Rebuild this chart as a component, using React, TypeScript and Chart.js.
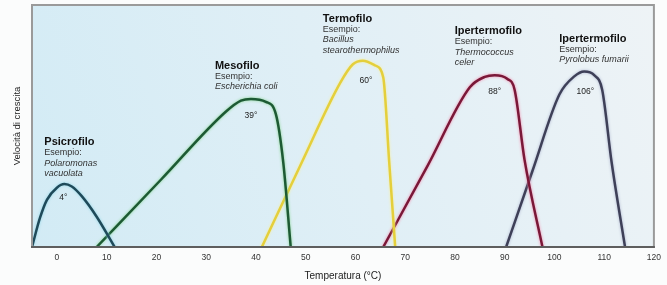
import React, { useEffect, useRef } from "react";
import { Chart, registerables } from "chart.js";

Chart.register(...registerables);

// Temperature (°C) / growth-rate (relative 0-100) points for each curve
const psicroT = [-5, -3.4, -2, 0, 1.5, 3, 5, 8, 11.6];
const psicroV = [0, 12, 19.5, 24.5, 26, 25, 21, 12.5, 0];
const mesoT = [8, 21, 34, 37, 39, 42, 44, 45.5, 47];
const mesoV = [0, 28, 56, 60.5, 61.2, 60, 55, 35, 0];
const termoT = [41.2, 49, 57, 59.5, 61.5, 64, 65.6, 66.8, 68];
const termoV = [0, 34, 68, 75.5, 77, 75, 70, 35, 0];
const iper1T = [65.6, 74.5, 83, 86, 88, 90.5, 92, 94, 97.6];
const iper1V = [0, 33.5, 66, 70.3, 71, 69.5, 65, 36, 0];
const iper2T = [90.3, 95.6, 101, 104, 106, 108, 109.6, 111.5, 114.2];
const iper2V = [0, 31.5, 63, 70.5, 72.5, 71, 65, 35, 0];

const groupNames = ["Psicrofilo", "Mesofilo", "Termofilo", "Ipertermofilo", "Ipertermofilo"];
const exampleLines = [
  ["Polaromonas", "vacuolata"],
  ["Escherichia coli"],
  ["Bacillus", "stearothermophilus"],
  ["Thermococcus", "celer"],
  ["Pyrolobus fumarii"],
];
const optimumLabels = ["4°", "39°", "60°", "88°", "106°"];
const xTicks = [0, 10, 20, 30, 40, 50, 60, 70, 80, 90, 100, 110, 120];
const xTitle = "Temperatura (°C)";
const yTitle = "Velocità di crescita";

// styles
const lineColors = ["#1f4a5a", "#1d5a34", "#e4cf3c", "#7a1838", "#3e4058"];
const glowColors = ["#8fd6e6", "#86d690", "#f7ee9c", "#f489aa", "#aab2cc"];
// label offsets in px relative to each curve's peak: [titleDx, titleDy, tempDx, tempDy]
const labelOffsets = [
  [-20, -42, -1, 14],
  [-36, -33, 0, 17],
  [-40, -42, 3, 20],
  [-40, -44, 0, 16],
  [-25, -33, 1, 20],
];
const FONT = '"Liberation Sans", Arial, sans-serif';

const series = [
  [psicroT, psicroV],
  [mesoT, mesoV],
  [termoT, termoV],
  [iper1T, iper1V],
  [iper2T, iper2V],
];

export default function App() {
  const ref = useRef<HTMLCanvasElement>(null);
  useEffect(() => {
    document.body.style.margin = "0";
    const canvas = ref.current;
    if (!canvas) return;

    const decor = {
      id: "decor",
      beforeDraw(chart: any) {
        const { ctx, chartArea: a, width, height } = chart;
        ctx.save();
        ctx.fillStyle = "#fbfcfc";
        ctx.fillRect(0, 0, width, height);
        const g = ctx.createLinearGradient(a.left, a.bottom, a.right, a.top);
        g.addColorStop(0, "#d2ebf5");
        g.addColorStop(0.5, "#e0eff6");
        g.addColorStop(1, "#eef3f6");
        ctx.fillStyle = g;
        ctx.fillRect(a.left, a.top, a.right - a.left, a.bottom - a.top);
        ctx.restore();
      },
      beforeDatasetDraw(chart: any, args: any) {
        const ctx = chart.ctx;
        ctx.save();
        ctx.shadowColor = glowColors[args.index];
        ctx.shadowBlur = 3;
      },
      afterDatasetDraw(chart: any) {
        chart.ctx.restore();
      },
      afterDraw(chart: any) {
        const { ctx, chartArea: a } = chart;
        ctx.save();
        ctx.strokeStyle = "#9a9a9a";
        ctx.lineWidth = 2;
        ctx.strokeRect(a.left, a.top, a.right - a.left, a.bottom - a.top);
        ctx.strokeStyle = "#4a4a4a";
        ctx.lineWidth = 1.5;
        ctx.beginPath();
        ctx.moveTo(a.left - 1, a.bottom);
        ctx.lineTo(a.right + 1, a.bottom);
        ctx.stroke();

        // axis titles
        ctx.fillStyle = "#222";
        ctx.font = `10px ${FONT}`;
        ctx.textAlign = "center";
        ctx.textBaseline = "middle";
        ctx.fillText(xTitle, (a.left + a.right) / 2, 276);
        ctx.save();
        ctx.translate(17, (a.top + a.bottom) / 2);
        ctx.rotate(-Math.PI / 2);
        ctx.font = `9.5px ${FONT}`;
        ctx.fillText(yTitle, 0, 0);
        ctx.restore();

        // curve annotations
        const xs = chart.scales.x;
        const ys = chart.scales.y;
        series.forEach(([t, v], i) => {
          let mi = 0;
          v.forEach((val, k) => { if (val > v[mi]) mi = k; });
          const px = xs.getPixelForValue(t[mi]);
          const py = ys.getPixelForValue(v[mi]);
          const [tdx, tdy, odx, ody] = labelOffsets[i];
          const lx = px + tdx;
          let ly = py + tdy;
          ctx.textAlign = "left";
          ctx.textBaseline = "middle";
          ctx.fillStyle = "#111";
          ctx.font = `bold 11px ${FONT}`;
          ctx.fillText(groupNames[i], lx, ly);
          ly += 10.5;
          ctx.fillStyle = "#333";
          ctx.font = `9px ${FONT}`;
          ctx.fillText("Esempio:", lx, ly);
          ctx.font = `italic 9px ${FONT}`;
          exampleLines[i].forEach((s) => {
            ly += 10.5;
            ctx.fillText(s, lx, ly);
          });
          ctx.textAlign = "center";
          ctx.font = `8.5px ${FONT}`;
          ctx.fillStyle = "#222";
          ctx.fillText(optimumLabels[i], px + odx, py + ody);
        });
        ctx.restore();
      },
    };

    const chart = new Chart(canvas, {
      type: "line",
      data: {
        datasets: series.map(([t, v], i) => ({
          label: groupNames[i],
          data: t.map((x, k) => ({ x, y: v[k] })),
          borderColor: lineColors[i],
          borderWidth: 2.5,
          pointRadius: 0,
          fill: false,
          cubicInterpolationMode: "monotone" as const,
        })),
      },
      options: {
        animation: false,
        responsive: false,
        maintainAspectRatio: false,
        layout: { padding: { left: 32, right: 8, top: 5, bottom: 0 } },
        plugins: { legend: { display: false }, tooltip: { enabled: false } },
        scales: {
          x: {
            type: "linear",
            min: -5,
            max: 120,
            grid: { display: false, drawTicks: false, tickLength: 0 },
            border: { display: false },
            afterBuildTicks: (s: any) => {
              s.ticks = xTicks.map((value) => ({ value }));
            },
            afterFit: (s: any) => {
              s.height = 38;
            },
            ticks: {
              padding: 6,
              color: "#333",
              font: { size: 8.5, family: FONT },
              maxRotation: 0,
              autoSkip: false,
            },
          },
          y: { display: false, min: 0, max: 100 },
        },
      },
      plugins: [decor],
    });
    return () => chart.destroy();
  }, []);
  return <canvas ref={ref} width={667} height={285} style={{ display: "block" }} />;
}
